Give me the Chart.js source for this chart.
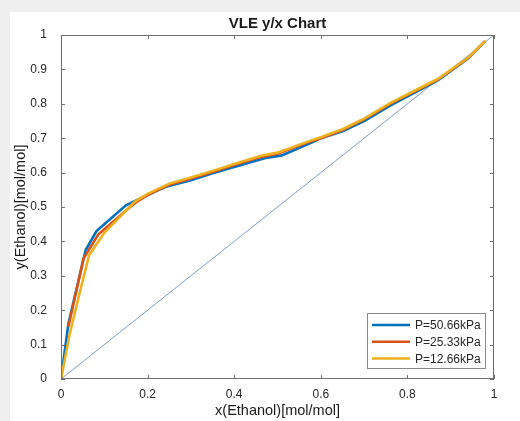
<!DOCTYPE html>
<html>
<head>
<meta charset="utf-8">
<script src="https://cdn.jsdelivr.net/npm/chart.js@4/dist/chart.umd.min.js"></script>
<style>
  html, body { margin: 0; padding: 0; background: #efefef; }
  #wrap { position: relative; width: 520px; height: 421px; }
  #paper { position: absolute; left: 10px; top: 12px; right: 0; bottom: 0; background: #fff; }
  #chart { position: absolute; left: 0; top: 0; }
</style>
</head>
<body>
<div id="wrap">
  <div id="paper"></div>
  <canvas id="chart" width="520" height="421"></canvas>
</div>
<script>
// Values
const seriesNames = ['P=50.66kPa', 'P=25.33kPa', 'P=12.66kPa'];

const xBlue = [0, 0.017, 0.057, 0.082, 0.15, 0.2, 0.24, 0.3, 0.35, 0.41, 0.47, 0.51, 0.58, 0.6, 0.65, 0.7, 0.76, 0.87, 0.94, 0.98];
const yBlue = [0, 0.16, 0.375, 0.43, 0.505, 0.535, 0.558, 0.578, 0.598, 0.62, 0.642, 0.65, 0.688, 0.7, 0.72, 0.75, 0.795, 0.868, 0.932, 0.983];

const xRed = [0.017, 0.052, 0.086, 0.15, 0.175, 0.2, 0.25, 0.3, 0.35, 0.4, 0.46, 0.5, 0.57, 0.6, 0.65, 0.7, 0.76, 0.87, 0.94, 0.98];
const yRed = [0.152, 0.35, 0.42, 0.49, 0.515, 0.535, 0.565, 0.583, 0.602, 0.622, 0.645, 0.655, 0.688, 0.7, 0.724, 0.755, 0.8, 0.87, 0.933, 0.983];

const xYellow = [0, 0.02, 0.045, 0.065, 0.1, 0.17, 0.2, 0.25, 0.3, 0.35, 0.4, 0.46, 0.5, 0.57, 0.6, 0.65, 0.7, 0.76, 0.87, 0.94, 0.98];
const yYellow = [0, 0.13, 0.26, 0.36, 0.425, 0.515, 0.538, 0.568, 0.586, 0.605, 0.625, 0.648, 0.658, 0.69, 0.703, 0.726, 0.757, 0.802, 0.872, 0.934, 0.983];

// y = x reference line
const xDiag = [0, 1];
const yDiag = [0, 1];

const xTicks = [0, 0.2, 0.4, 0.6, 0.8, 1];
const yTicks = [0, 0.1, 0.2, 0.3, 0.4, 0.5, 0.6, 0.7, 0.8, 0.9, 1];

const colors = ['#0072BD', '#D95319', '#EDB120'];

function toPoints(xs, ys) {
  return xs.map((x, i) => ({ x: x, y: ys[i] }));
}

// Box, inward ticks, title and legend drawn on top of the plot
const framePlugin = {
  id: 'frame',
  afterDraw(chart) {
    const { ctx, chartArea: a, scales } = chart;
    ctx.save();
    ctx.strokeStyle = '#6e6e6e';
    ctx.lineWidth = 1;
    ctx.strokeRect(a.left + 0.5, a.top + 0.5, a.width - 1, a.height - 1);

    xTicks.forEach((v) => {
      const px = Math.round(scales.x.getPixelForValue(v)) + 0.5;
      ctx.beginPath();
      ctx.moveTo(px, a.bottom); ctx.lineTo(px, a.bottom - 4);
      ctx.moveTo(px, a.top); ctx.lineTo(px, a.top + 4);
      ctx.stroke();
    });
    yTicks.forEach((v) => {
      const py = Math.round(scales.y.getPixelForValue(v)) + 0.5;
      ctx.beginPath();
      ctx.moveTo(a.left, py); ctx.lineTo(a.left + 4, py);
      ctx.moveTo(a.right, py); ctx.lineTo(a.right - 4, py);
      ctx.stroke();
    });

    // title
    ctx.fillStyle = '#1a1a1a';
    ctx.font = 'bold 15px "Liberation Sans", Arial, sans-serif';
    ctx.textAlign = 'center';
    ctx.textBaseline = 'alphabetic';
    ctx.fillText('VLE y/x Chart', (a.left + a.right) / 2, a.top - 7);

    // legend box in the lower right corner
    const w = 118, h = 55;
    const bx = a.right - 9 - w, by = a.bottom - 11 - h;
    ctx.fillStyle = '#fff';
    ctx.fillRect(bx, by, w, h);
    ctx.strokeStyle = '#8a8a8a';
    ctx.strokeRect(bx + 0.5, by + 0.5, w, h);
    ctx.font = '12px "Liberation Sans", Arial, sans-serif';
    ctx.textAlign = 'left';
    ctx.textBaseline = 'middle';
    seriesNames.forEach((name, i) => {
      const ly = by + 12 + i * 16.7;
      ctx.strokeStyle = colors[i];
      ctx.lineWidth = 2.5;
      ctx.beginPath();
      ctx.moveTo(bx + 5, ly); ctx.lineTo(bx + 43, ly);
      ctx.stroke();
      ctx.fillStyle = '#262626';
      ctx.fillText(name, bx + 48, ly + 1);
    });
    ctx.restore();
  }
};

const lineStyle = { showLine: true, pointRadius: 0, pointHoverRadius: 0, tension: 0, fill: false };

new Chart(document.getElementById('chart').getContext('2d'), {
  type: 'scatter',
  data: {
    datasets: [
      Object.assign({ label: 'diag', data: toPoints(xDiag, yDiag), borderColor: 'rgba(110,140,180,0.85)', borderWidth: 1, order: 4 }, lineStyle),
      Object.assign({ label: seriesNames[0], data: toPoints(xBlue, yBlue), borderColor: colors[0], borderWidth: 2.6, order: 3 }, lineStyle),
      Object.assign({ label: seriesNames[1], data: toPoints(xRed, yRed), borderColor: colors[1], borderWidth: 2.6, order: 2 }, lineStyle),
      Object.assign({ label: seriesNames[2], data: toPoints(xYellow, yYellow), borderColor: colors[2], borderWidth: 2.6, order: 1 }, lineStyle)
    ]
  },
  options: {
    responsive: false,
    animation: false,
    layout: { padding: { top: 35, right: 26, left: 0, bottom: 0 } },
    plugins: {
      legend: { display: false },
      title: { display: false },
      tooltip: { enabled: false }
    },
    scales: {
      x: {
        type: 'linear', min: 0, max: 1,
        grid: { display: false },
        border: { display: false },
        afterBuildTicks: (s) => { s.ticks = xTicks.map((v) => ({ value: v })); },
        afterFit: (s) => { s.height = 42; },
        ticks: {
          padding: 0, color: '#262626',
          font: { family: '"Liberation Sans", Arial, sans-serif', size: 12 },
          callback: (v) => String(v)
        },
        title: {
          display: true, text: 'x(Ethanol)[mol/mol]', color: '#1a1a1a',
          font: { family: '"Liberation Sans", Arial, sans-serif', size: 14.5 },
          padding: { top: 0, bottom: 1 }
        }
      },
      y: {
        type: 'linear', min: 0, max: 1,
        grid: { display: false },
        border: { display: false },
        afterBuildTicks: (s) => { s.ticks = yTicks.map((v) => ({ value: v })); },
        afterFit: (s) => { s.width = 61; },
        ticks: {
          padding: 6, color: '#262626',
          font: { family: '"Liberation Sans", Arial, sans-serif', size: 12 },
          callback: (v) => String(v)
        },
        title: {
          display: true, text: 'y(Ethanol)[mol/mol]', color: '#1a1a1a',
          font: { family: '"Liberation Sans", Arial, sans-serif', size: 14.5 },
          padding: { top: 12, bottom: 0 }
        }
      }
    }
  },
  plugins: [framePlugin]
});
</script>
</body>
</html>
